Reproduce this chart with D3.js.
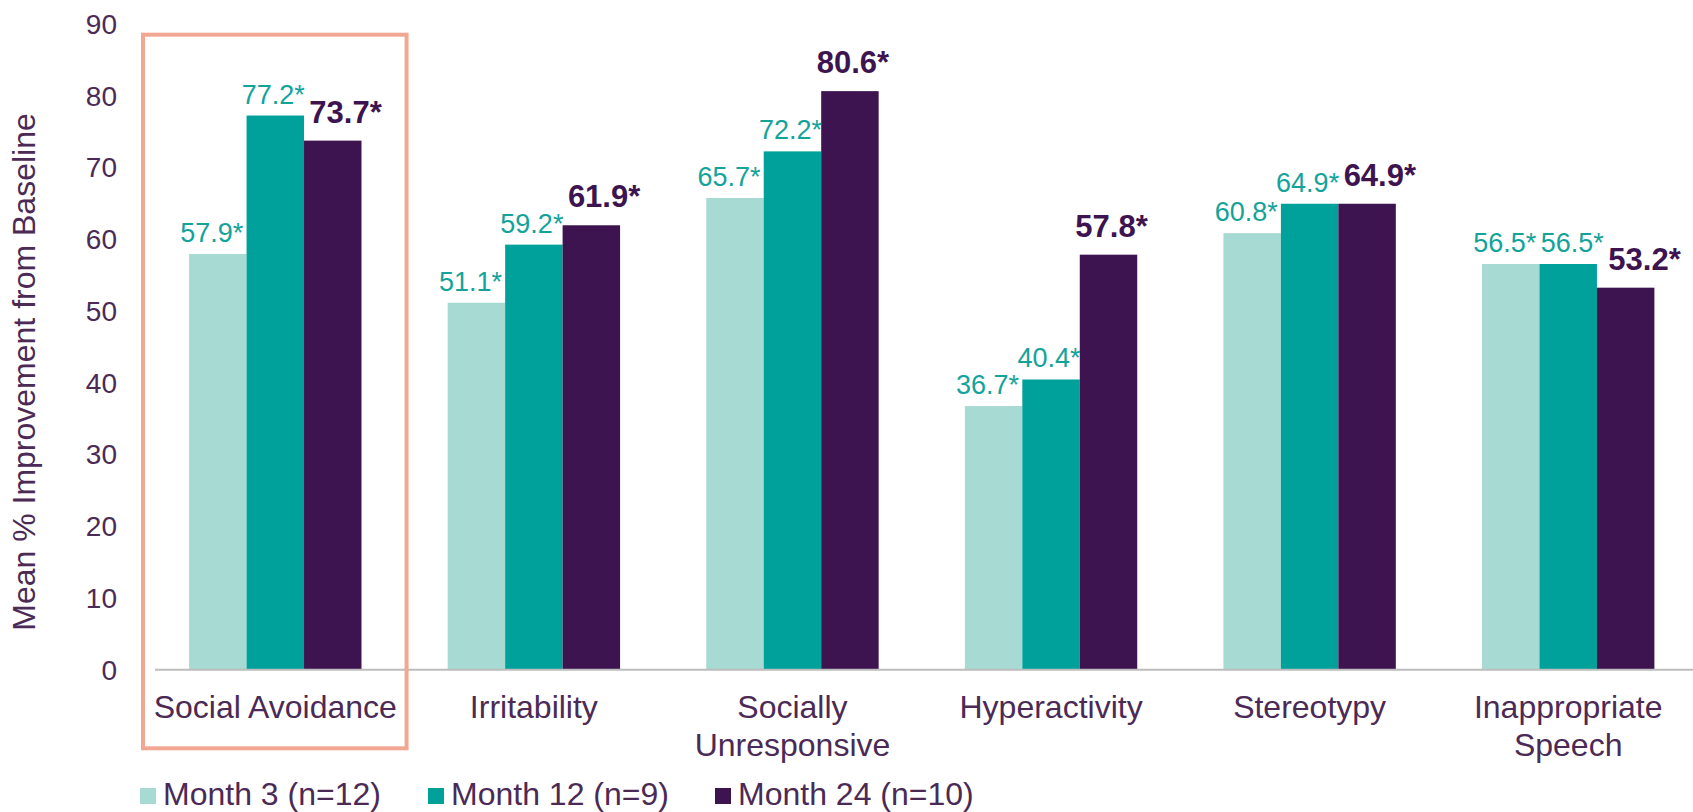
<!DOCTYPE html>
<html>
<head>
<meta charset="utf-8">
<script src="https://cdn.jsdelivr.net/npm/d3@7"></script>
<style>
  body { margin: 0; background: #fff; }
  svg text { font-family: "Liberation Sans", Arial, sans-serif; }
</style>
</head>
<body>
<div id="chart"></div>
<script>
// categories, two of them wrap onto a second line
var categories = ["Social Avoidance", "Irritability", "Socially Unresponsive", "Hyperactivity", "Stereotypy", "Inappropriate Speech"];
var categoryLines = [["Social Avoidance"], ["Irritability"], ["Socially", "Unresponsive"], ["Hyperactivity"], ["Stereotypy"], ["Inappropriate", "Speech"]];

var seriesNames = ["Month 3 (n=12)", "Month 12 (n=9)", "Month 24 (n=10)"];
var month3 = [57.9, 51.1, 65.7, 36.7, 60.8, 56.5];
var month12 = [77.2, 59.2, 72.2, 40.4, 64.9, 56.5];
var month24 = [73.7, 61.9, 80.6, 57.8, 64.9, 53.2];

var yTicks = [0, 10, 20, 30, 40, 50, 60, 70, 80, 90];

var BAR_COLORS = ["#a7dad2", "#00a19a", "#3d1450"];
var LABEL_COLORS = ["#14a39b", "#14a39b", "#3d1450"];
var TEXT_COLOR = "#4b2a55";

var width = 1693, height = 812;

var svg = d3.select("#chart").append("svg")
	.attr("width", width)
	.attr("height", height);

var allSeries = [month3, month12, month24];

// scales
var y = d3.scaleLinear().domain([0, 90]).range([669.3, 23.7]);

var x0 = d3.scaleBand()
	.domain(categories)
	.range([146, 1697.5])
	.paddingInner(1 / 3)
	.paddingOuter(1 / 6);

var x1 = d3.scaleBand()
	.domain(d3.range(seriesNames.length))
	.range([0, x0.bandwidth()]);

// y axis labels (no line, no ticks)
var yAxis = d3.axisLeft(y).tickValues(yTicks).tickSize(0).tickPadding(0);
var gy = svg.append("g")
	.attr("transform", "translate(117,0)")
	.call(yAxis);
gy.select(".domain").remove();
gy.selectAll("text")
	.attr("fill", TEXT_COLOR)
	.style("font-size", "28px")
	.attr("dy", "0.35em");

// y title
svg.append("text")
	.attr("transform", "translate(35,372) rotate(-90)")
	.attr("text-anchor", "middle")
	.attr("fill", TEXT_COLOR)
	.style("font-size", "32px")
	.text("Mean % Improvement from Baseline");

// bars
var groups = svg.selectAll(".cat")
	.data(categories)
	.enter()
	.append("g")
	.attr("class", "cat")
	.attr("transform", function(d) { return "translate(" + x0(d) + ",0)"; });

groups.selectAll("rect")
	.data(function(d, ci) {
		return allSeries.map(function(s, si) { return { si: si, ci: ci, value: s[ci] }; });
	})
	.enter()
	.append("rect")
	.attr("x", function(d) { return x1(d.si); })
	.attr("width", x1.bandwidth())
	.attr("y", function(d) { return y(d.value); })
	.attr("height", function(d) { return y(0) - y(d.value); })
	.attr("fill", function(d) { return BAR_COLORS[d.si]; });

// x axis line
svg.append("line")
	.attr("x1", 155)
	.attr("x2", width)
	.attr("y1", y(0) + 0.5)
	.attr("y2", y(0) + 0.5)
	.attr("stroke", "#bdbdbd")
	.attr("stroke-width", 2);

// value labels
var labelDx = [-6, -2, 3];
var labels = groups.selectAll(".val")
	.data(function(d, ci) {
		return allSeries.map(function(s, si) { return { si: si, ci: ci, value: s[ci] }; });
	})
	.enter()
	.append("text")
	.attr("class", "val")
	.attr("text-anchor", "middle")
	.attr("x", function(d) { return x1(d.si) + x1.bandwidth() / 2 + labelDx[d.si]; })
	.attr("y", function(d) { return y(d.value) - (d.si == 2 ? 18 : 12); })
	.attr("fill", function(d) { return LABEL_COLORS[d.si]; })
	.style("font-size", function(d) { return d.si == 2 ? "31px" : "27px"; })
	.style("font-weight", function(d) { return d.si == 2 ? "bold" : "normal"; })
	.text(function(d) { return d3.format(".1f")(d.value) + "*"; });

// push neighbouring labels apart when they collide
groups.each(function() {
	var nodes = d3.select(this).selectAll(".val").nodes();
	for (var i = 1; i < nodes.length; i++) {
		var a = nodes[i - 1].getBBox(), b = nodes[i].getBBox();
		var vOverlap = a.y < b.y + b.height - 4 && b.y < a.y + a.height - 4;
		var hOverlap = a.x + a.width + 4 - b.x;
		if (vOverlap && hOverlap > 0) {
			var nx = +d3.select(nodes[i]).attr("x") + hOverlap;
			d3.select(nodes[i]).attr("x", nx);
		}
	}
});

// category labels
groups.append("text")
	.attr("text-anchor", "middle")
	.attr("fill", TEXT_COLOR)
	.style("font-size", "32px")
	.attr("x", x0.bandwidth() / 2)
	.attr("y", 718)
	.each(function(d, i) {
		var t = d3.select(this);
		categoryLines[i].forEach(function(line, li) {
			t.append("tspan")
				.attr("x", x0.bandwidth() / 2)
				.attr("dy", li == 0 ? 0 : 38)
				.text(line);
		});
	});

// highlight box round the first category
var first = x0(categories[0]) - x0.step() * x0.paddingOuter();
svg.append("rect")
	.attr("x", first - 3)
	.attr("y", y(90) + 11)
	.attr("width", x0.step() + 5)
	.attr("height", 748.3 - (y(90) + 11))
	.attr("fill", "none")
	.attr("stroke", "#f2a792")
	.attr("stroke-width", 4);

// legend
var legendX = [140, 428, 715];
var legend = svg.selectAll(".legend")
	.data(seriesNames)
	.enter()
	.append("g")
	.attr("class", "legend")
	.attr("transform", function(d, i) { return "translate(" + legendX[i] + ",788)"; });

legend.append("rect")
	.attr("width", 16)
	.attr("height", 16)
	.attr("fill", function(d, i) { return BAR_COLORS[i]; });

legend.append("text")
	.attr("x", 23)
	.attr("y", 17)
	.attr("fill", TEXT_COLOR)
	.style("font-size", "32px")
	.text(function(d) { return d; });
</script>
</body>
</html>
